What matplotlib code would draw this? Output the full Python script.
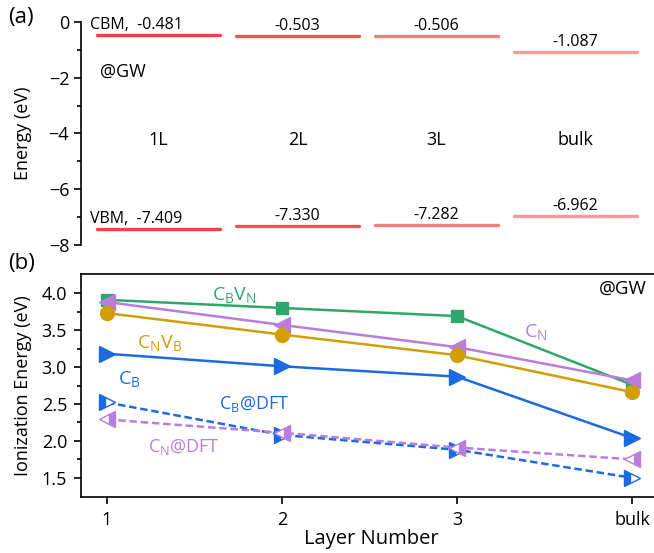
import numpy as np
import matplotlib
matplotlib.use('Agg')
import matplotlib.pyplot as plt

plt.rcParams['font.family'] = ['Open Sans', 'DejaVu Sans']
plt.rcParams['mathtext.fontset'] = 'custom'
plt.rcParams['mathtext.rm'] = 'Open Sans'
plt.rcParams['mathtext.it'] = 'Open Sans'

# panel (a) band edges
layers_a = ['1L', '2L', '3L', 'bulk']
cbm = [-0.481, -0.503, -0.506, -1.087]
vbm = [-7.409, -7.330, -7.282, -6.962]
bar_colors = ['#f04444', '#f25252', '#f57c7c', '#f89a9a']

# panel (b) ionization energies
layer_x = [1, 2, 3, 4]
layer_ticks = ['1', '2', '3', 'bulk']
cbvn = [3.91, 3.80, 3.69, 2.76]
cn = [3.88, 3.57, 3.27, 2.82]
cnvb = [3.73, 3.44, 3.16, 2.66]
cb = [3.18, 3.01, 2.87, 2.04]
cb_dft = [2.52, 2.08, 1.88, 1.50]
cn_dft = [2.29, 2.11, 1.91, 1.75]

green = '#2ea86a'
purple = '#b97ddd'
gold = '#d19e04'
blue = '#1c6ae0'

W, H = 654, 553
fig = plt.figure(figsize=(W / 100, H / 100), dpi=100)

# ---- (a)
ax1 = fig.add_axes([81 / W, 1 - 245 / H, (662 - 81) / W, 223 / H])
for s in ['top', 'right', 'bottom']:
    ax1.spines[s].set_visible(False)
ax1.set_xlim(0, (662 - 81) / 139)
ax1.set_ylim(-8, 0)
ax1.set_xticks([])
ax1.set_yticks([0, -2, -4, -6, -8])
ax1.set_yticks([-1, -3, -5, -7], minor=True)
ax1.tick_params(axis='y', labelsize=13, length=5, width=1.2)
ax1.tick_params(axis='y', which='minor', length=3, width=1.2)
ax1.spines['left'].set_linewidth(1.2)
ax1.set_ylabel('Energy (eV)', fontsize=13)
ax1.yaxis.set_label_coords((32 - 81) / 581, 0.5)

for i in range(len(layers_a)):
    x0, x1 = 0.115 + i, 1.0 + i
    xc = (x0 + x1) / 2
    ax1.plot([x0, x1], [cbm[i], cbm[i]], color=bar_colors[i], lw=2.4, solid_capstyle='round')
    ax1.plot([x0, x1], [vbm[i], vbm[i]], color=bar_colors[i], lw=2.4, solid_capstyle='round')
    if i == 0:
        ax1.text(0.065, cbm[i] + 0.07, 'CBM,  %.3f' % cbm[i], fontsize=11.5, ha='left', va='bottom')
        ax1.text(0.065, vbm[i] + 0.07, 'VBM,  %.3f' % vbm[i], fontsize=11.5, ha='left', va='bottom')
    else:
        ax1.text(xc, cbm[i] + 0.07, '%.3f' % cbm[i], fontsize=11.5, ha='center', va='bottom')
        ax1.text(xc, vbm[i] + 0.07, '%.3f' % vbm[i], fontsize=11.5, ha='center', va='bottom')
    ax1.text(xc, -4.25, layers_a[i], fontsize=13, ha='center', va='center')
ax1.text(0.14, -1.8, '@GW', fontsize=13, ha='left', va='center')
fig.text(8 / W, 1 - 17 / H, '(a)', fontsize=16, ha='left', va='center')

# ---- (b)
ax2 = fig.add_axes([81 / W, 1 - 497 / H, (662 - 81) / W, 223 / H])
ax2.set_xlim(1 - 26 / 175, 1 + (662 - 107) / 175)
ax2.set_ylim(1.24, 4.26)
ax2.plot(layer_x, cbvn, '-s', color=green, lw=1.8, ms=9)
ax2.plot(layer_x, cn, '-<', color=purple, lw=1.8, ms=11)
ax2.plot(layer_x, cnvb, '-o', color=gold, lw=1.8, ms=10)
ax2.plot(layer_x, cb, '->', color=blue, lw=1.8, ms=12)
ax2.plot(layer_x, cb_dft, '--', marker='>', color=blue, lw=1.8, ms=11,
         fillstyle='left', markerfacecoloralt='white', dashes=(3, 1.5))
ax2.plot(layer_x, cn_dft, '--', marker='<', color=purple, lw=1.8, ms=11,
         fillstyle='right', markerfacecoloralt='white', dashes=(3, 1.5))
ax2.set_xticks(layer_x)
ax2.set_xticklabels(layer_ticks)
ax2.set_yticks([1.5, 2.0, 2.5, 3.0, 3.5, 4.0])
ax2.set_yticks([1.75, 2.25, 2.75, 3.25, 3.75], minor=True)
ax2.tick_params(labelsize=13, length=5, width=1.2, pad=5)
ax2.tick_params(axis='y', which='minor', length=3, width=1.2)
for s in ax2.spines.values():
    s.set_linewidth(1.2)
ax2.set_ylabel('Ionization Energy (eV)', fontsize=13)
ax2.yaxis.set_label_coords((32 - 81) / 581, 0.5)
ax2.set_xlabel('Layer Number', fontsize=14.5, labelpad=0)

ax2.text(1.73, 3.98, r'$\mathregular{C_BV_N}$', color=green, fontsize=14, ha='center', va='center')
ax2.text(3.45, 3.47, r'$\mathregular{C_N}$', color=purple, fontsize=14, ha='center', va='center')
ax2.text(1.30, 3.33, r'$\mathregular{C_NV_B}$', color=gold, fontsize=14, ha='center', va='center')
ax2.text(1.13, 2.84, r'$\mathregular{C_B}$', color=blue, fontsize=14, ha='center', va='center')
ax2.text(1.84, 2.50, r'$\mathregular{C_B@DFT}$', color=blue, fontsize=13, ha='center', va='center')
ax2.text(1.44, 1.92, r'$\mathregular{C_N@DFT}$', color=purple, fontsize=13, ha='center', va='center')
ax2.text(3.95, 4.06, '@GW', fontsize=13.5, ha='center', va='center')
fig.text(8 / W, 1 - 263 / H, '(b)', fontsize=16, ha='left', va='center')

fig.savefig('out.png', dpi=100, facecolor='white')
